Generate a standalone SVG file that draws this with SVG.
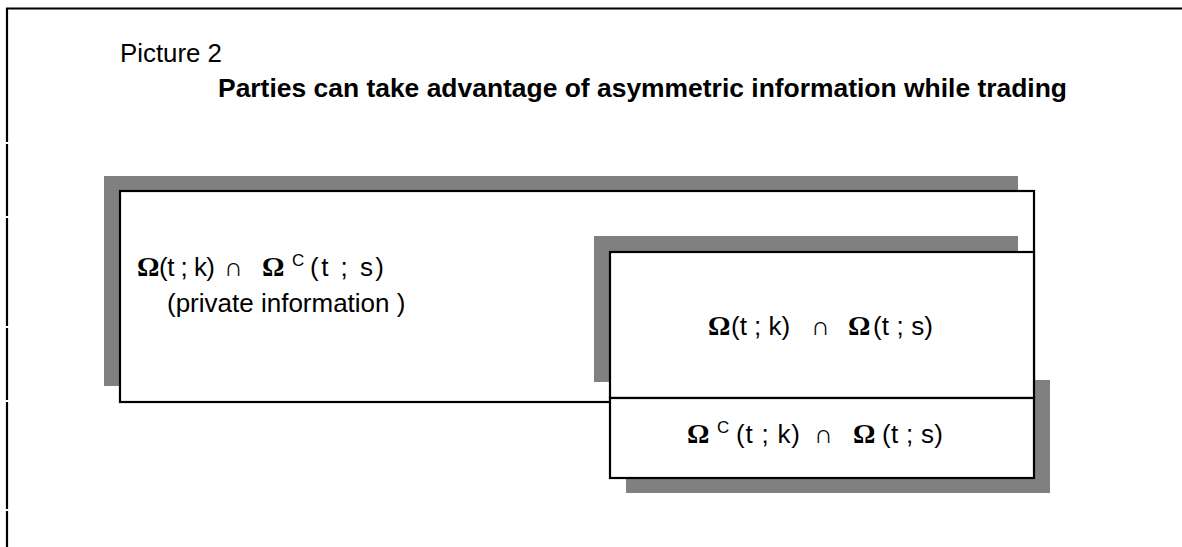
<svg xmlns="http://www.w3.org/2000/svg" width="1182" height="547" viewBox="0 0 1182 547">
<style>
.frame{stroke:#000;stroke-width:2.2;fill:none}
.shadow{fill:#808080}
.box{fill:#fff;stroke:#000;stroke-width:2.2}
.sans{font-family:"Liberation Sans",Arial,sans-serif;font-size:26px;fill:#000}
.om{font-family:"Liberation Serif","Times New Roman",serif;font-weight:bold;font-size:28px}
.cap{font-family:"Liberation Serif","DejaVu Serif",serif;font-size:26px}
.sup{font-size:17px}
</style>
<rect width="1182" height="547" fill="#fff"/>
<g id="frame">
<path class="frame" d="M6,8.5H1182M7,8V142M7,144V216M7,218V326M7,328V400M7,402V509M7,511V547"/>
</g>
<g id="heading">
<text class="sans" x="120" y="62" textLength="102" lengthAdjust="spacingAndGlyphs">Picture 2</text>
<text class="sans" x="218" y="97" font-weight="bold" font-size="24" textLength="849" lengthAdjust="spacingAndGlyphs">Parties can take advantage of asymmetric information while trading</text>
</g>
<g id="private">
<rect class="shadow" x="104" y="176" width="914" height="210"/>
<rect class="box" x="120" y="191" width="914" height="211"/>
<text class="sans" y="276"><tspan class="om" x="137">Ω</tspan><tspan x="159" textLength="56" lengthAdjust="spacing">(t ; k)</tspan><tspan class="cap" x="224">∩</tspan><tspan class="om" x="262">Ω</tspan><tspan class="sup" x="292" dy="-10">C</tspan><tspan x="310" dy="10" textLength="74" lengthAdjust="spacing">(t ; s)</tspan></text>
<text class="sans" x="167" y="312">(private information )</text>
</g>
<g id="common">
<rect class="shadow" x="594" y="236" width="424" height="146"/>
<rect class="shadow" x="626" y="380" width="424" height="113"/>
<rect class="box" x="610" y="252" width="424" height="146"/>
<text class="sans" y="335"><tspan class="om" x="708">Ω</tspan><tspan x="731">(t ; k)</tspan><tspan class="cap" x="811">∩</tspan><tspan class="om" x="848">Ω</tspan><tspan x="873" textLength="60" lengthAdjust="spacing">(t ; s)</tspan></text>
</g>
<g id="other">
<rect class="box" x="610" y="398" width="424" height="80"/>
<text class="sans" y="443"><tspan class="om" x="687">Ω</tspan><tspan class="sup" x="717" dy="-10">C</tspan><tspan x="736" dy="10" textLength="64" lengthAdjust="spacing">(t ; k)</tspan><tspan class="cap" x="814">∩</tspan><tspan class="om" x="853">Ω</tspan><tspan x="882" textLength="61" lengthAdjust="spacing">(t ; s)</tspan></text>
</g>
</svg>
